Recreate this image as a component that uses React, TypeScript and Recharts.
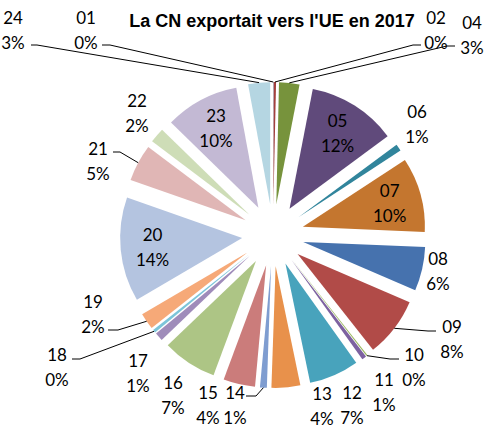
import { Pie, PieChart, Sector } from "recharts"

const categories = [
  "01", "02", "04", "05", "06", "07", "08", "09", "10", "11", "12", "13",
  "14", "15", "16", "17", "18", "19", "20", "21", "22", "23", "24",
]
const shares = [
  0.05, 0.3, 2.7, 11.8, 0.9, 9.9, 5.8, 7.9, 0.15, 0.6, 6.6, 3.8,
  0.9, 4.2, 7.2, 1.1, 0.4, 2.2, 13.8, 4.9, 2.0, 9.8, 2.9,
]
const colors = [
  "#385D8A", "#A3403D", "#77933C", "#604A7B", "#31859C", "#C4762F",
  "#4672AE", "#B14B48", "#97B55A", "#7D62A0", "#48A3BC", "#E8914B",
  "#7F9DD0", "#CB7C7B", "#ADC585", "#9F8CBA", "#7CC5D9", "#F6A978",
  "#B4C4E0", "#E0B6B5", "#CEDDB7", "#C3B9D4", "#B5D6E2",
]

const data = categories.map((name, i) => ({ name, value: shares[i] }))

const W = 485
const H = 427
const CX = 273
const CY = 235
const R = 122
const EXPLODE = 31
const INSIDE_R = 90
const LINE_GAP = 25
const RAD = Math.PI / 180
const labelFont = "Lato, 'Noto Sans', sans-serif"

// labels that sit inside their slice
const inside = ["05", "07", "20", "23"]

// outside labels: centre of the first line, optional leader [startX, startY, elbowX, elbowY]
const outside: Record<string, { x: number; y: number; lead?: number[] }> = {
  "24": { x: 13, y: 17, lead: [31, 45, 37, 45] },
  "01": { x: 86, y: 17, lead: [102, 45, 110, 45] },
  "02": { x: 436, y: 17, lead: [421, 45, 413, 45] },
  "04": { x: 472, y: 22, lead: [455, 46, 447, 46] },
  "06": { x: 417, y: 111 },
  "08": { x: 438, y: 258 },
  "09": { x: 452, y: 326, lead: [436, 331, 428, 331] },
  "10": { x: 414, y: 354, lead: [399, 359, 390, 359] },
  "11": { x: 384, y: 379 },
  "12": { x: 352, y: 392 },
  "13": { x: 322, y: 393 },
  "14": { x: 235, y: 392, lead: [246, 396, 256, 396] },
  "15": { x: 208, y: 392 },
  "16": { x: 173, y: 382 },
  "17": { x: 138, y: 360 },
  "18": { x: 57, y: 354, lead: [72, 359, 80, 359] },
  "19": { x: 93, y: 301, lead: [108, 330, 118, 330] },
  "21": { x: 98, y: 148, lead: [113, 152, 120, 152] },
  "22": { x: 137, y: 100 },
}

function explodedCentre(p: any) {
  const a = -p.midAngle * RAD
  return { x: p.cx + EXPLODE * Math.cos(a), y: p.cy + EXPLODE * Math.sin(a), a }
}

function ExplodedSlice(p: any) {
  const c = explodedCentre(p)
  return (
    <Sector
      cx={c.x}
      cy={c.y}
      innerRadius={0}
      outerRadius={p.outerRadius}
      startAngle={p.startAngle}
      endAngle={p.endAngle}
      fill={colors[p.index]}
      stroke="none"
    />
  )
}

function SliceLabel(p: any) {
  const name = categories[p.index]
  const pct = `${Math.round(p.percent * 100)}%`
  const c = explodedCentre(p)
  let x: number
  let y: number
  let lead = null
  if (inside.includes(name)) {
    x = c.x + INSIDE_R * Math.cos(c.a)
    y = c.y + INSIDE_R * Math.sin(c.a) - LINE_GAP / 2
  } else {
    const o = outside[name]
    x = o.x
    y = o.y
    if (o.lead) {
      const ex = c.x + p.outerRadius * Math.cos(c.a)
      const ey = c.y + p.outerRadius * Math.sin(c.a)
      lead = (
        <polyline
          points={`${o.lead[0]},${o.lead[1]} ${o.lead[2]},${o.lead[3]} ${ex},${ey}`}
          fill="none"
          stroke="#000"
          strokeWidth={1}
        />
      )
    }
  }
  const textProps = {
    textAnchor: "middle" as const,
    dominantBaseline: "central" as const,
    fontFamily: labelFont,
    fontSize: 17,
    fill: "#000",
  }
  return (
    <g>
      {lead}
      <text x={x} y={y} {...textProps}>{name}</text>
      <text x={x} y={y + LINE_GAP} {...textProps}>{pct}</text>
    </g>
  )
}

export default function App() {
  return (
    <div style={{ position: "absolute", left: 0, top: 0, width: W, height: H, background: "#fff" }}>
      <PieChart width={W} height={H} margin={{ top: 0, right: 0, bottom: 0, left: 0 }}>
        <text
          x={272}
          y={21}
          textAnchor="middle"
          dominantBaseline="central"
          fontFamily="'Liberation Sans', Arial, sans-serif"
          fontWeight="bold"
          fontSize={18}
          fill="#000"
        >
          La CN exportait vers l'UE en 2017
        </text>
        <Pie
          data={data}
          dataKey="value"
          nameKey="name"
          cx={CX}
          cy={CY}
          innerRadius={0}
          outerRadius={R}
          startAngle={90}
          endAngle={-270}
          fill="none"
          stroke="none"
          labelLine={false}
          label={ExplodedSlice}
          isAnimationActive={false}
        />
        <Pie
          data={data}
          dataKey="value"
          nameKey="name"
          cx={CX}
          cy={CY}
          innerRadius={0}
          outerRadius={R}
          startAngle={90}
          endAngle={-270}
          fill="none"
          stroke="none"
          labelLine={false}
          label={SliceLabel}
          isAnimationActive={false}
        />
      </PieChart>
    </div>
  )
}
